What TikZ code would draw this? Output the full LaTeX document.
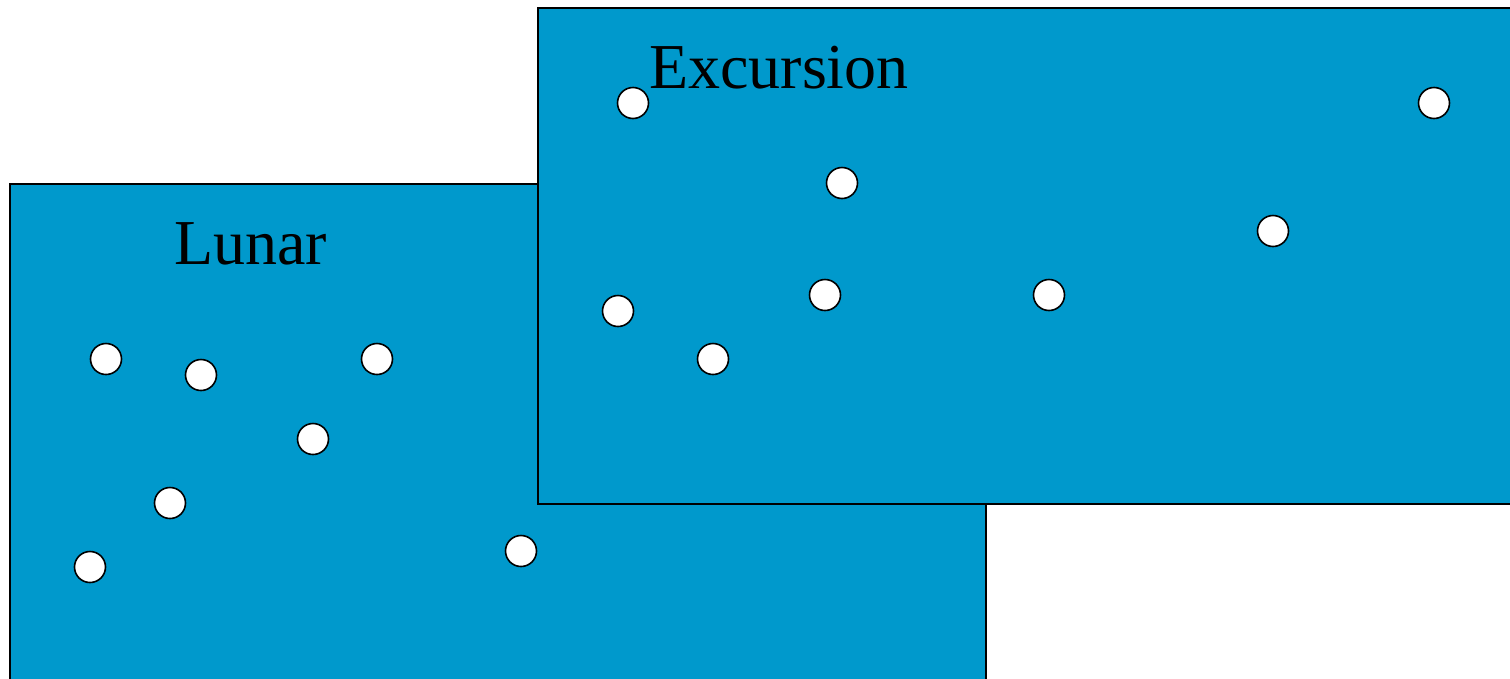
\documentclass[tikz,border=0pt]{standalone}
\usepackage{fontspec}
\setmainfont{Liberation Serif}
\definecolor{boxblue}{HTML}{0099CC}
\begin{document}
\begin{tikzpicture}[x=1pt,y=-1pt,
  panel/.style={fill=boxblue,draw=black,line width=2pt},
  dot/.style={circle,fill=white,draw=black,line width=1.6pt,minimum size=31pt,inner sep=0pt},
  title/.style={anchor=base west,inner sep=0pt,font=\fontsize{64}{64}\selectfont}]
\useasboundingbox (0,0) rectangle (1510,678);
\clip (0,0) rectangle (1510,678);
% Lunar panel
\path[panel] (10,184) rectangle (986,720);
\node[title] (lunar) at (174,264) {Lunar};
\node[dot] (l1) at (106,359) {};
\node[dot] (l2) at (201,375) {};
\node[dot] (l3) at (377,359) {};
\node[dot] (l4) at (313,439) {};
\node[dot] (l5) at (170,503) {};
\node[dot] (l6) at (90,567) {};
\node[dot] (l7) at (521,551) {};
% Excursion panel
\path[panel] (538,8) rectangle (1530,504);
\node[title] (excursion) at (649,88) {Excursion};
\node[dot] (e1) at (633,103) {};
\node[dot] (e2) at (842,183) {};
\node[dot] (e3) at (1434,103) {};
\node[dot] (e4) at (1273,231) {};
\node[dot] (e5) at (618,311) {};
\node[dot] (e6) at (825,295) {};
\node[dot] (e7) at (1049,295) {};
\node[dot] (e8) at (713,359) {};
\end{tikzpicture}
\end{document}
